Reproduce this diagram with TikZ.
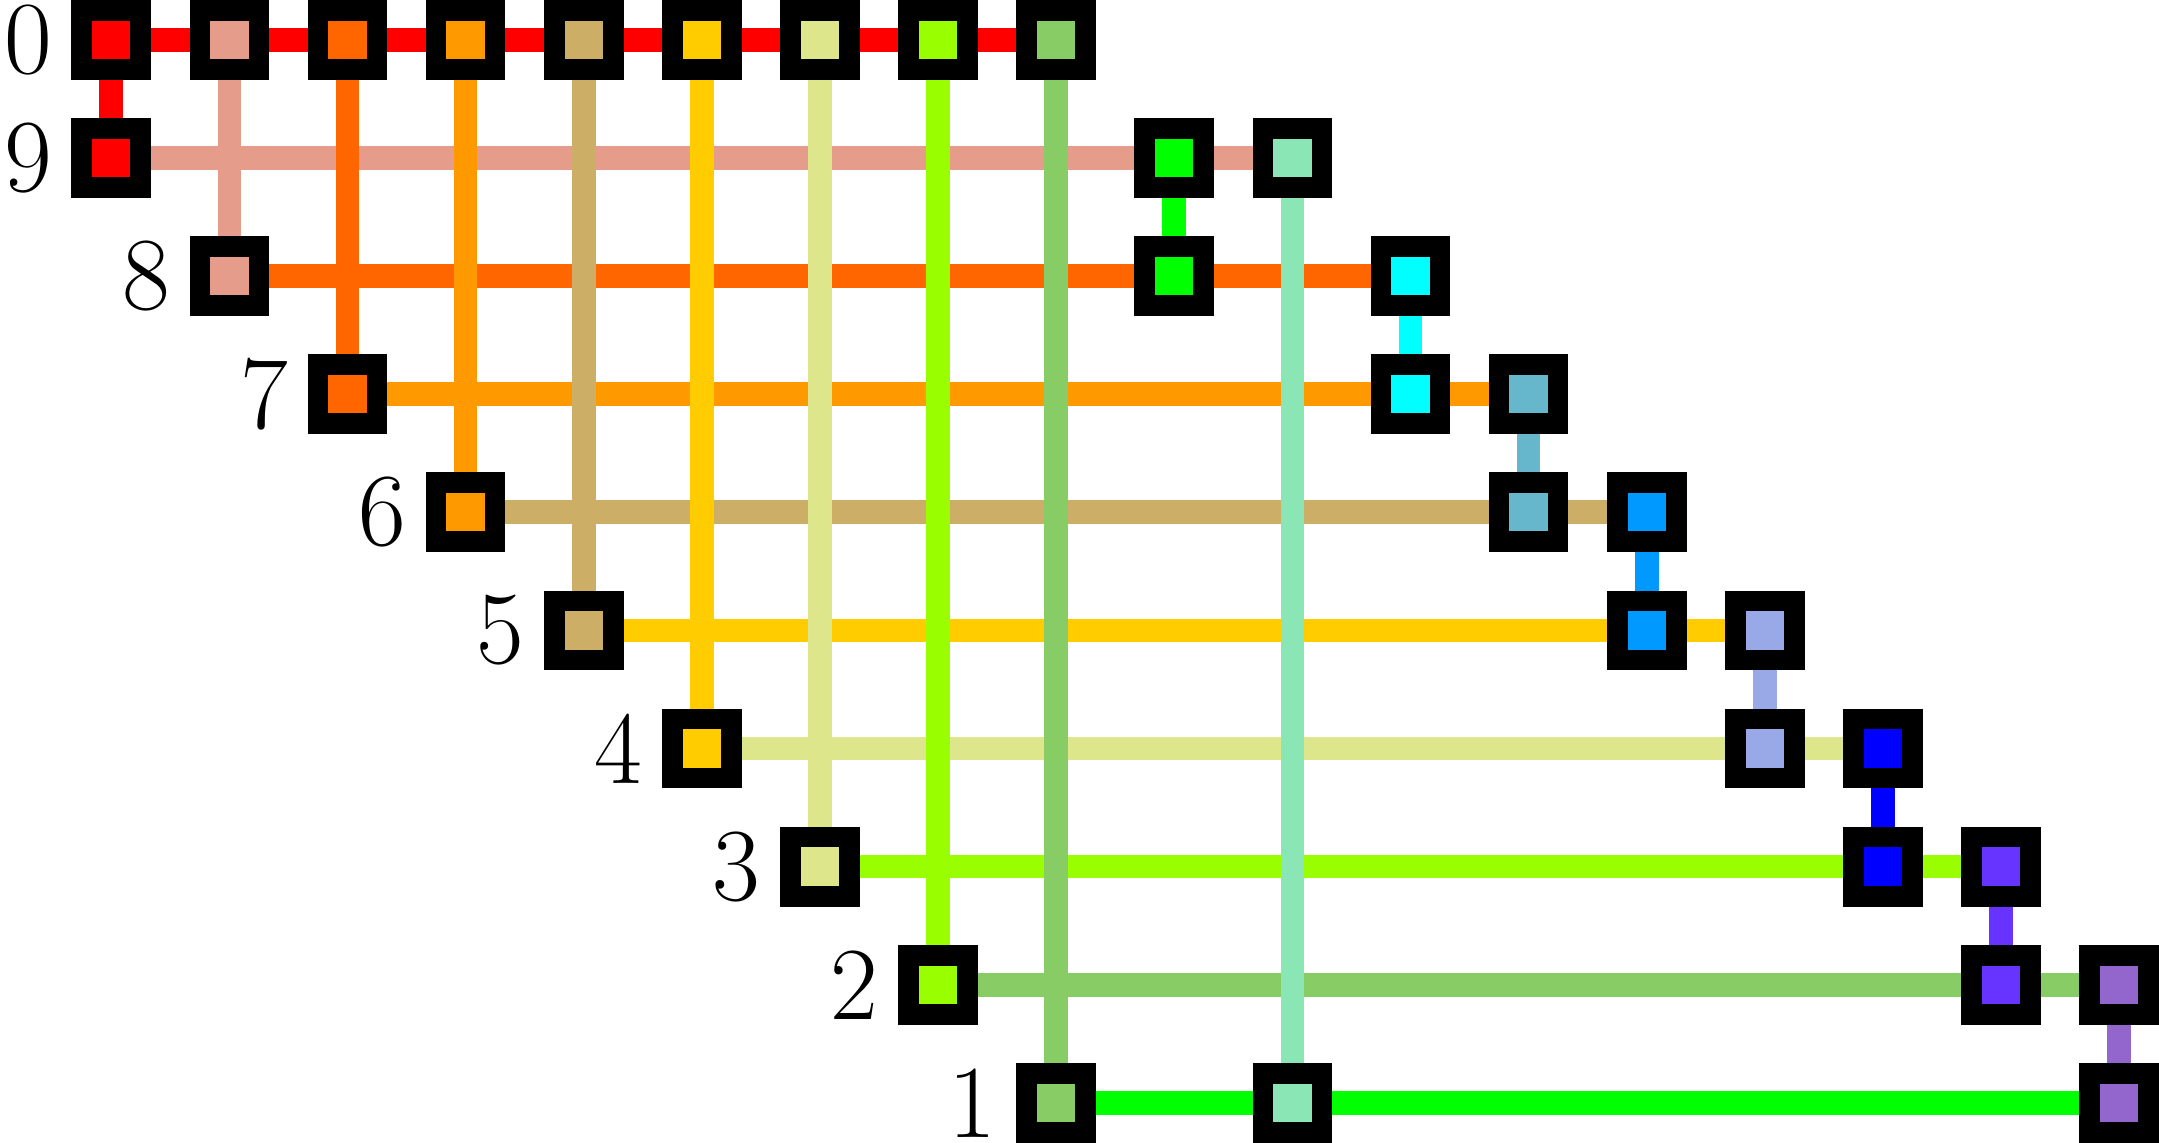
\documentclass[tikz,border=0pt]{standalone}
\definecolor{col0}{HTML}{FF0000}
\definecolor{col1}{HTML}{E59C8B}
\definecolor{col2}{HTML}{FF6600}
\definecolor{col3}{HTML}{FF9900}
\definecolor{col4}{HTML}{CCAE66}
\definecolor{col5}{HTML}{FFCC00}
\definecolor{col6}{HTML}{DDE68A}
\definecolor{col7}{HTML}{99FF00}
\definecolor{col8}{HTML}{88CC66}
\definecolor{col9}{HTML}{00FF00}
\definecolor{col10}{HTML}{8BE6B6}
\definecolor{col11}{HTML}{00FFFF}
\definecolor{col12}{HTML}{66B6CC}
\definecolor{col13}{HTML}{0099FF}
\definecolor{col14}{HTML}{99A8E6}
\definecolor{col15}{HTML}{0000FF}
\definecolor{col16}{HTML}{6633FF}
\definecolor{col17}{HTML}{9266CC}
\usepackage{tikz}
\usetikzlibrary{positioning}
\pgfdeclarelayer{hlines}
\pgfdeclarelayer{vlines}
\pgfsetlayers{hlines,vlines,main}

\begin{document}
\begin{tikzpicture}[
  sq/.style={draw=black, line width=0.175cm, minimum size=0.5cm, inner sep=0pt},
  wire/.style={line width=0.2cm},
  lbl/.style={inner sep=0pt, font=\fontsize{25}{30}\selectfont}
]
  \useasboundingbox (-0.942,0.3375) rectangle (17.3375,-9.3375);

  % one column per edge: column / top row / bottom row
  \foreach \c/\a/\b in {0/0/1, 1/0/2, 2/0/3, 3/0/4, 4/0/5, 5/0/6, 6/0/7, 7/0/8, 8/0/9,
                        9/1/2, 10/1/9, 11/2/3, 12/3/4, 13/4/5, 14/5/6, 15/6/7, 16/7/8, 17/8/9} {
    \node[sq, fill=col\c] (p-\c-\a) at (\c,-\a) {};
    \node[sq, fill=col\c] (p-\c-\b) at (\c,-\b) {};
    \begin{pgfonlayer}{vlines}
      \draw[wire, col\c] (p-\c-\a.center) -- (p-\c-\b.center);
    \end{pgfonlayer}
  }

  % one row per vertex: row / first column / last column / label
  \foreach \r/\s/\e/\lab in {0/0/8/0, 1/0/10/9, 2/1/11/8, 3/2/12/7, 4/3/13/6,
                             5/4/14/5, 6/5/15/4, 7/6/16/3, 8/7/17/2, 9/8/17/1} {
    \begin{pgfonlayer}{hlines}
      \draw[wire, col\r] (p-\s-\r.center) -- (p-\e-\r.center);
    \end{pgfonlayer}
    \node[lbl, left=0.16cm of p-\s-\r] (lab-\r) {\lab};
  }
\end{tikzpicture}
\end{document}
